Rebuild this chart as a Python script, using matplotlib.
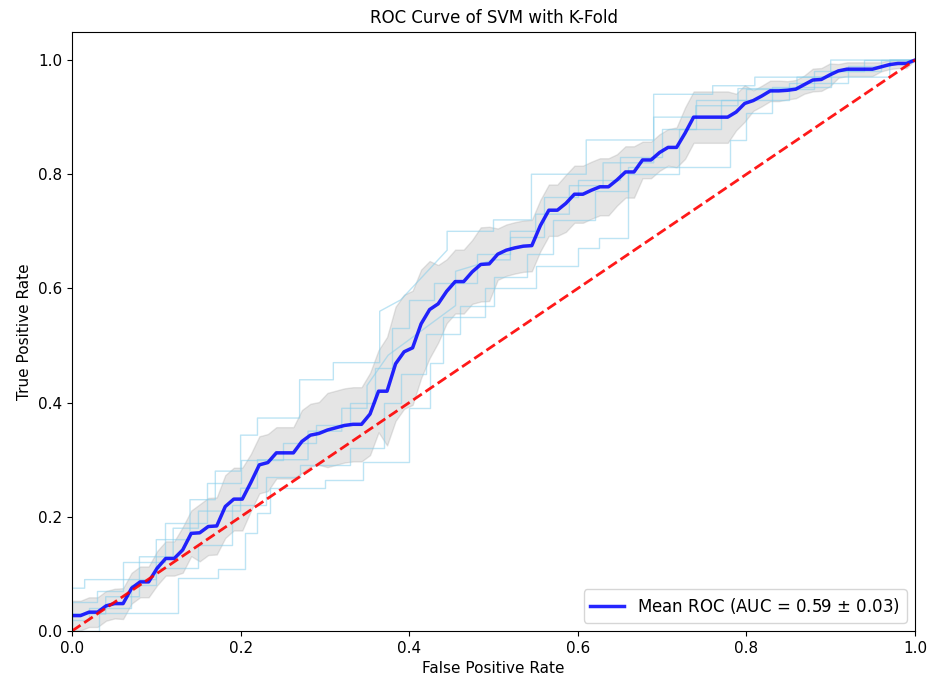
import numpy as np
import matplotlib
matplotlib.use("Agg")
import matplotlib.pyplot as plt

# ---- data ----
mean_tpr = [
    0.027, 0.027, 0.033, 0.033, 0.044, 0.048, 0.048, 0.075, 0.086, 0.086,
    0.110, 0.127, 0.127, 0.142, 0.171, 0.172, 0.183, 0.184, 0.218, 0.231,
    0.231, 0.260, 0.291, 0.295, 0.312, 0.312, 0.312, 0.332, 0.343, 0.346,
    0.352, 0.356, 0.360, 0.362, 0.362, 0.380, 0.420, 0.420, 0.468, 0.489,
    0.496, 0.538, 0.563, 0.573, 0.595, 0.612, 0.612, 0.629, 0.642, 0.643,
    0.660, 0.667, 0.671, 0.674, 0.675, 0.710, 0.737, 0.737, 0.749, 0.765,
    0.765, 0.772, 0.778, 0.778, 0.790, 0.804, 0.804, 0.825, 0.825, 0.838,
    0.847, 0.847, 0.872, 0.900, 0.900, 0.900, 0.900, 0.900, 0.909, 0.924,
    0.929, 0.937, 0.946, 0.946, 0.947, 0.949, 0.957, 0.965, 0.966, 0.974,
    0.981, 0.984, 0.984, 0.984, 0.984, 0.988, 0.992, 0.994, 0.994, 1.000,
]
std_tpr = [
    0.026, 0.026, 0.026, 0.026, 0.026, 0.026, 0.027, 0.027, 0.027, 0.027,
    0.030, 0.030, 0.030, 0.040, 0.040, 0.050, 0.050, 0.050, 0.055, 0.055,
    0.055, 0.050, 0.050, 0.050, 0.045, 0.045, 0.045, 0.055, 0.055, 0.055,
    0.065, 0.065, 0.065, 0.065, 0.065, 0.072, 0.072, 0.095, 0.100, 0.100,
    0.100, 0.095, 0.085, 0.068, 0.056, 0.056, 0.056, 0.056, 0.065, 0.065,
    0.045, 0.045, 0.045, 0.045, 0.045, 0.045, 0.045, 0.045, 0.050, 0.050,
    0.050, 0.050, 0.050, 0.050, 0.045, 0.045, 0.045, 0.032, 0.032, 0.032,
    0.032, 0.035, 0.045, 0.045, 0.045, 0.045, 0.045, 0.045, 0.032, 0.032,
    0.018, 0.018, 0.018, 0.018, 0.016, 0.016, 0.016, 0.020, 0.020, 0.020,
    0.012, 0.012, 0.012, 0.012, 0.012, 0.008, 0.008, 0.008, 0.008, 0.000,
]
mean_auc = 0.59
std_auc = 0.03

fold1_fpr = [0, 0, 0.015, 0.015, 0.1, 0.1, 0.14, 0.14, 0.17, 0.17, 0.2, 0.2, 0.22, 0.22, 0.27, 0.27, 0.31, 0.31, 0.365, 0.365, 0.39, 0.445, 0.445, 0.5, 0.5, 0.545, 0.545, 0.61, 0.61, 0.69, 0.69, 0.76, 0.76, 0.81, 0.81, 0.9, 0.9, 1.0]
fold1_tpr = [0, 0.075, 0.075, 0.09, 0.09, 0.16, 0.16, 0.23, 0.23, 0.28, 0.28, 0.343, 0.343, 0.373, 0.373, 0.44, 0.44, 0.47, 0.47, 0.56, 0.58, 0.667, 0.70, 0.70, 0.72, 0.72, 0.80, 0.80, 0.86, 0.86, 0.94, 0.94, 0.955, 0.955, 0.97, 0.97, 1.0, 1.0]

fold2_fpr = [0, 0.032, 0.032, 0.126, 0.126, 0.173, 0.173, 0.205, 0.205, 0.22, 0.22, 0.235, 0.235, 0.3, 0.3, 0.345, 0.345, 0.4, 0.4, 0.425, 0.425, 0.44, 0.44, 0.49, 0.49, 0.55, 0.55, 0.6, 0.6, 0.625, 0.625, 0.66, 0.66, 0.78, 0.78, 0.8, 0.8, 0.83, 0.83, 0.9, 0.9, 0.96, 0.96, 1.0]
fold2_tpr = [0, 0, 0.031, 0.031, 0.093, 0.093, 0.108, 0.108, 0.171, 0.171, 0.206, 0.206, 0.25, 0.25, 0.265, 0.265, 0.296, 0.296, 0.39, 0.39, 0.47, 0.47, 0.55, 0.55, 0.60, 0.60, 0.64, 0.64, 0.67, 0.67, 0.688, 0.688, 0.813, 0.813, 0.86, 0.86, 0.907, 0.907, 0.953, 0.953, 0.98, 0.98, 1.0, 1.0]

fold3_fpr = [0, 0, 0.03, 0.03, 0.06, 0.06, 0.11, 0.11, 0.16, 0.16, 0.2, 0.2, 0.25, 0.25, 0.29, 0.29, 0.33, 0.33, 0.36, 0.36, 0.38, 0.38, 0.4, 0.4, 0.43, 0.43, 0.48, 0.48, 0.52, 0.52, 0.56, 0.56, 0.6, 0.6, 0.65, 0.65, 0.7, 0.7, 0.74, 0.74, 0.8, 0.8, 0.88, 0.88, 0.94, 0.94, 1.0]
fold3_tpr = [0, 0.05, 0.05, 0.07, 0.07, 0.12, 0.12, 0.19, 0.19, 0.26, 0.26, 0.30, 0.30, 0.33, 0.33, 0.36, 0.36, 0.40, 0.40, 0.46, 0.46, 0.53, 0.53, 0.58, 0.58, 0.61, 0.61, 0.66, 0.66, 0.69, 0.69, 0.76, 0.76, 0.79, 0.79, 0.83, 0.83, 0.88, 0.88, 0.93, 0.93, 0.95, 0.95, 0.98, 0.98, 1.0, 1.0]

fold4_fpr = [0, 0, 0.02, 0.02, 0.07, 0.07, 0.1, 0.1, 0.15, 0.15, 0.19, 0.19, 0.23, 0.23, 0.27, 0.27, 0.33, 0.33, 0.37, 0.37, 0.39, 0.39, 0.42, 0.42, 0.46, 0.46, 0.5, 0.5, 0.54, 0.54, 0.57, 0.57, 0.62, 0.62, 0.66, 0.66, 0.72, 0.72, 0.77, 0.77, 0.85, 0.85, 0.92, 0.92, 0.97, 0.97, 1.0]
fold4_tpr = [0, 0.02, 0.02, 0.04, 0.04, 0.08, 0.08, 0.11, 0.11, 0.15, 0.15, 0.22, 0.22, 0.27, 0.27, 0.29, 0.29, 0.32, 0.32, 0.40, 0.40, 0.45, 0.45, 0.52, 0.52, 0.57, 0.57, 0.62, 0.62, 0.66, 0.66, 0.72, 0.72, 0.77, 0.77, 0.80, 0.80, 0.88, 0.88, 0.93, 0.93, 0.96, 0.96, 0.99, 0.99, 1.0, 1.0]

fold5_fpr = [0, 0, 0.04, 0.04, 0.08, 0.08, 0.12, 0.12, 0.15, 0.15, 0.2, 0.2, 0.22, 0.22, 0.28, 0.28, 0.32, 0.32, 0.35, 0.35, 0.375, 0.455, 0.455, 0.5, 0.52, 0.52, 0.55, 0.55, 0.59, 0.59, 0.63, 0.63, 0.69, 0.69, 0.74, 0.74, 0.79, 0.79, 0.86, 0.86, 0.97, 0.97, 1.0]
fold5_tpr = [0, 0.03, 0.03, 0.06, 0.06, 0.13, 0.13, 0.18, 0.18, 0.21, 0.21, 0.25, 0.25, 0.30, 0.30, 0.35, 0.35, 0.39, 0.39, 0.43, 0.483, 0.57, 0.63, 0.65, 0.65, 0.70, 0.70, 0.73, 0.73, 0.78, 0.78, 0.82, 0.82, 0.90, 0.90, 0.92, 0.92, 0.95, 0.95, 0.97, 0.97, 1.0, 1.0]

folds = [
    (fold1_fpr, fold1_tpr),
    (fold2_fpr, fold2_tpr),
    (fold3_fpr, fold3_tpr),
    (fold4_fpr, fold4_tpr),
    (fold5_fpr, fold5_tpr),
]

# ---- plotting ----
mean_fpr = np.linspace(0, 1, len(mean_tpr))
mean_tpr = np.array(mean_tpr)
std_tpr = np.array(std_tpr)

fig = plt.figure(figsize=(9.32, 6.85), dpi=100)
ax = fig.add_axes([72 / 932, 1 - 631 / 685, (915 - 72) / 932, (631 - 31.5) / 685])

for fpr, tpr in folds:
    ax.plot(fpr, tpr, color="skyblue", lw=1, alpha=0.55)

upper = np.minimum(mean_tpr + std_tpr, 1)
lower = np.maximum(mean_tpr - std_tpr, 0)
ax.fill_between(mean_fpr, lower, upper, color="grey", alpha=0.2)

ax.plot(mean_fpr, mean_tpr, color="b", lw=2.5, alpha=0.85,
        label=f"Mean ROC (AUC = {mean_auc:.2f} $\\pm$ {std_auc:.2f})")
ax.plot([0, 1], [0, 1], linestyle="--", lw=2, color="r", alpha=0.9)

ax.set_xlim(0, 1)
ax.set_ylim(0, 1.05)
ax.tick_params(labelsize=11)
ax.set_xlabel("False Positive Rate", fontsize=11)
ax.set_ylabel("True Positive Rate", fontsize=11)
ax.set_title("ROC Curve of SVM with K-Fold", fontsize=12)
ax.legend(loc="lower right", fontsize=12)

fig.savefig("out.png", dpi=100)
